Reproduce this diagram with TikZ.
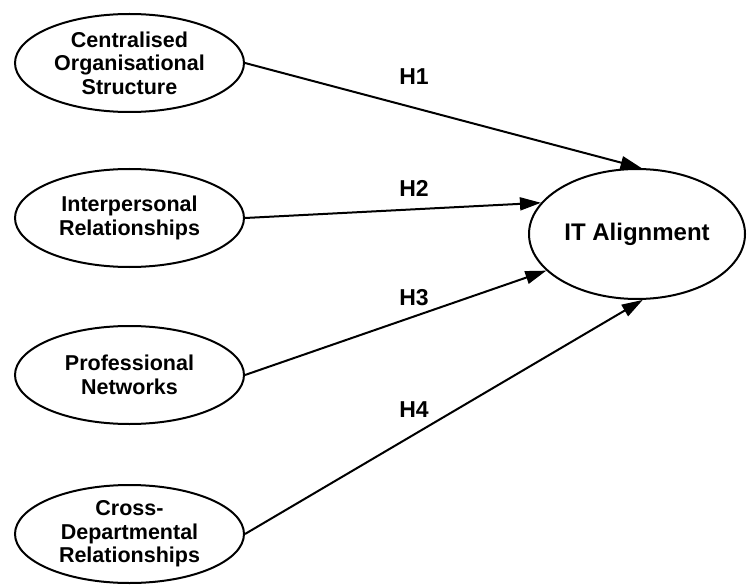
\documentclass[tikz,border=0pt]{standalone}
\usepackage{fontspec}
\setmainfont{Liberation Sans}
\usetikzlibrary{shapes.geometric,arrows.meta}
\begin{document}
\begin{tikzpicture}[x=1pt,y=-1pt,
  lat/.style={ellipse,draw,line width=2pt,minimum width=229pt,minimum height=98pt,inner sep=0pt,align=center,
    font=\fontsize{21.5}{23.5}\selectfont\bfseries},
  target/.style={ellipse,draw,line width=2pt,minimum width=216pt,minimum height=130pt,inner sep=0pt,
    font=\fontsize{24}{28}\selectfont\bfseries},
  hyp/.style={font=\fontsize{23}{26}\selectfont\bfseries,inner sep=0pt},
  arr/.style={line width=2pt,-{Triangle[length=21pt,width=13pt]}}]
\useasboundingbox (0,0) rectangle (749,588);
\node[lat] (c1) at (129.5,63) {Centralised\\Organisational\\Structure};
\node[lat] (c2) at (129.5,218) {Interpersonal\\Relationships};
\node[lat] (c3) at (129.5,375) {Professional\\Networks};
\node[lat] (c4) at (129.5,534) {Cross-\\Departmental\\Relationships};
\node[target] (it) at (637,234) {IT Alignment};
\draw[arr] (c1.east) -- (it.86);
\draw[arr] (c2.east) -- (it.162);
\draw[arr] (c3.east) -- (it.202);
\draw[arr] (c4.east) -- (it.275);
\node[hyp] (h1) at (414,77) {H1};
\node[hyp] (h2) at (414,188) {H2};
\node[hyp] (h3) at (414,298) {H3};
\node[hyp] (h4) at (414,410) {H4};
\end{tikzpicture}
\end{document}
